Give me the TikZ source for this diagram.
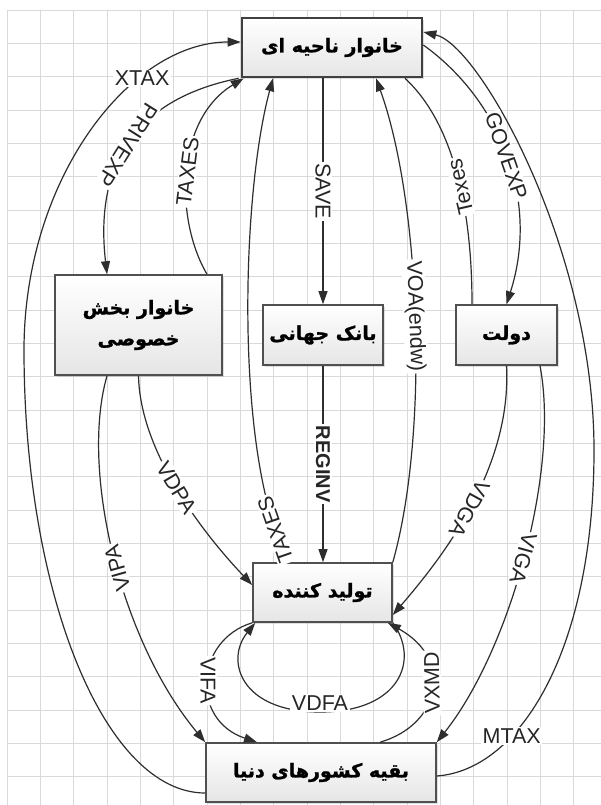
\documentclass[tikz,border=0pt]{standalone}
\usepackage{fontspec}
\newfontfamily\labfont{Liberation Sans}
\newfontfamily\fafont[Script=Arabic,FakeBold=1.3]{DejaVu Sans Bold}
\TeXXeTstate=1
\usetikzlibrary{arrows.meta,shadows}
\definecolor{gridc}{HTML}{D9D9D9}
\definecolor{linec}{HTML}{2E2E2E}
\definecolor{boxc}{HTML}{505050}
\begin{document}
\begin{tikzpicture}[x=1pt,y=-1pt,
  box/.style={draw=boxc, line width=1.6pt, top color=white, bottom color=black!10,
    font=\fafont\fontsize{19}{31}\selectfont, inner sep=0pt, align=center,
    drop shadow={shadow xshift=2pt,shadow yshift=-2pt,opacity=.25}},
  flow/.style={draw=linec, line width=1.2pt},
  arr/.style={flow, -{Triangle[length=13pt,width=9pt]}},
  rarr/.style={flow, {Triangle[length=13pt,width=9pt]}-},
  flowlab/.style={font=\labfont\fontsize{21.5}{23}\selectfont, fill=white, inner sep=1.5pt, text=black!85},
  sl/.style={sloped, allow upside down},
  gline/.style={draw=gridc, line width=0.9pt}]
\useasboundingbox (0,0) rectangle (601,805);
\fill[white] (0,0) rectangle (601,805);
\foreach \i in {0,...,17} \draw[gline] ({7+33.333*\i},10) -- ({7+33.333*\i},805);
\foreach \j in {0,...,23} \draw[gline] (7,{10+33.333*\j}) -- (601,{10+33.333*\j});

\node[box, line width=2.6pt, draw=black!75, minimum width=180pt, minimum height=59pt] (top) at (332,47.5) {\beginR خانوار ناحیه ای\endR};
\node[box, minimum width=167pt, minimum height=100pt] (left) at (138.5,325) {\beginR خانوار بخش\endR\\\beginR خصوصی\endR};
\node[box, minimum width=120pt, minimum height=60pt] (bank) at (323,335) {\beginR بانک جهانی\endR};
\node[box, minimum width=101pt, minimum height=60pt] (gov) at (506.5,335) {\beginR دولت\endR};
\node[box, minimum width=139pt, minimum height=59pt] (prod) at (322.5,592.5) {\beginR تولید کننده\endR};
\node[box, minimum width=230pt, minimum height=59pt] (row) at (321,772.5) {\beginR بقیه کشورهای دنیا\endR};

% XTAX
\draw[arr] ([yshift=-20.5pt]row.west) .. controls (105,793) and (24,595) .. (24,350)
  .. controls (24,179) and (130,42) .. ([yshift=5.5pt]top.west) node[flowlab,pos=0.69]{XTAX};
% MTAX
\draw[arr] ([yshift=-3.5pt]row.east) .. controls (520,770) and (594,650) .. (594,450) node[flowlab,pos=0.32]{MTAX}
  .. controls (594,250) and (480,45) .. ([yshift=15.5pt]top.east);
% PRIVEXP
\draw[arr] ([xshift=-2pt]top.south west) .. controls (130,100) and (95,170) .. ([xshift=-31.5pt]left.north) node[flowlab,sl,pos=0.5]{PRIVEXP};
% TAXES (left)
\draw[arr] ([xshift=68.5pt]left.north) .. controls (175,220) and (175,120) .. ([xshift=3pt]top.south west) node[flowlab,sl,pos=0.5]{TAXES};
% SAVE
\draw[arr] ([xshift=-9pt]top.south) -- (bank.north) node[flowlab,sl,pos=0.5]{SAVE};
% REGINV
\draw[arr] (bank.south) -- ([xshift=0.5pt]prod.north) node[flowlab,sl,pos=0.5,font=\labfont\bfseries\fontsize{20}{22}\selectfont]{REGINV};
% GOVEXP
\draw[arr] ([yshift=2.5pt]top.east) .. controls (500,100) and (540,200) .. (gov.north) node[flowlab,sl,pos=0.5]{GOVEXP};
% Texes
\draw[flow] ([xshift=-34.5pt]gov.north) .. controls (472,200) and (450,120) .. ([xshift=73pt]top.south) node[flowlab,sl,pos=0.42]{Texes};
% VOA(endw)
\draw[rarr] ([xshift=44pt]top.south) .. controls (420,200) and (430,430) .. (prod.north east) node[flowlab,sl,pos=0.5]{VOA(endw)};
% TAXES (middle)
\draw[arr] ([xshift=-32.5pt]prod.north) .. controls (235,470) and (240,200) .. ([xshift=-59pt]top.south) node[flowlab,sl,pos=0.1]{TAXES};
% VDPA
\draw[arr] (left.south) .. controls (140,450) and (200,530) .. ([yshift=7.5pt]prod.west) node[flowlab,sl,pos=0.5]{VDPA};
% VIPA
\draw[rarr] (row.north west) .. controls (120,640) and (80,470) .. ([xshift=-31.5pt]left.south) node[flowlab,sl,pos=0.47]{VIPA};
% VDGA
\draw[arr] (gov.south) .. controls (512,470) and (440,560) .. ([yshift=-22.5pt]prod.east) node[flowlab,sl,pos=0.5]{VDGA};
% VIGA
\draw[arr] ([xshift=33.5pt]gov.south) .. controls (560,470) and (510,650) .. (row.north east) node[flowlab,sl,pos=0.5]{VIGA};
% VIFA
\draw[arr] (prod.south west) .. controls (195,640) and (190,720) .. ([xshift=-64pt]row.north) node[flowlab,sl,pos=0.5]{VIFA};
% VXMD
\draw[arr] ([xshift=59pt]row.north) .. controls (440,725) and (455,660) .. ([xshift=-5pt]prod.south east) node[flowlab,sl,pos=0.55]{VXMD};
% VDFA
\draw[arr] (prod.south east) .. controls (420,660) and (400,712) .. (320,712) node[flowlab,yshift=9pt]{VDFA}
  .. controls (240,712) and (225,660) .. ([xshift=3pt]prod.south west);
\end{tikzpicture}
\end{document}
